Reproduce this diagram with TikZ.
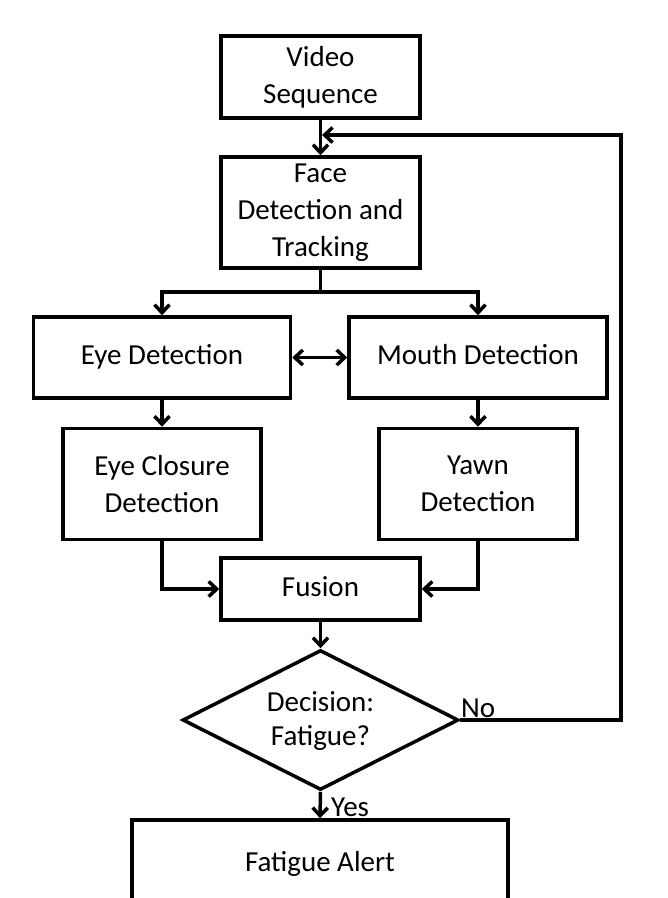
\documentclass[tikz,border=0pt]{standalone}
\usepackage{fontspec}
\setmainfont{Carlito}
\usetikzlibrary{shapes.geometric,arrows.meta}
\begin{document}
\begin{tikzpicture}[x=1pt,y=-1pt,
  box/.style={draw,line width=3.5pt,inner sep=2pt,align=center,font=\fontsize{29}{37}\selectfont},
  one/.style={text height=20pt,text depth=6pt},
  conn/.style={line width=3.5pt,-{Straight Barb[length=8pt,width=15pt]}},
  lbl/.style={font=\fontsize{29}{34}\selectfont,inner sep=1pt,align=center}]
\path[use as bounding box] (0,0) rectangle (668,898);
\clip (0,0) rectangle (668,898);
\node[box,minimum width=199pt,minimum height=82pt] (vid) at (320.5,77) {Video\\Sequence};
\node[box,minimum width=199pt,minimum height=111pt] (face) at (320.5,212.5) {Face\\Detection and\\Tracking};
\node[box,one,minimum width=257pt,minimum height=81pt] (eye) at (162,357.5) {Eye Detection};
\node[box,one,minimum width=258pt,minimum height=81pt] (mouth) at (478,357.5) {Mouth Detection};
\node[box,minimum width=198pt,minimum height=111pt] (clos) at (162,484) {Eye Closure\\Detection};
\node[box,minimum width=198pt,minimum height=111pt] (yawn) at (478,484) {Yawn\\Detection};
\node[box,one,minimum width=199pt,minimum height=62pt] (fus) at (320.5,589) {Fusion};
\node[draw,line width=3.5pt,shape=diamond,inner sep=0pt,minimum width=276pt,minimum height=140pt] (dec) at (320.5,720) {};
\node[lbl] (dectxt) at (320.5,721) {Decision:\\Fatigue?};
\node[box,minimum width=376pt,minimum height=96pt] (alert) at (320,868) {};
\node[lbl] (alerttxt) at (320,864) {Fatigue Alert};
\coordinate (split) at (320.5,292);
\coordinate (fbend) at (322,135);
\coordinate (fbcorner) at (621,720);
\draw[conn] (vid) -- (face);
\draw[conn] (dec.east) -- (fbcorner) |- (fbend);
\draw[line width=3.5pt] (face.south) -- (split);
\draw[conn] (split) -| (eye.north);
\draw[conn] (split) -| (mouth.north);
\draw[line width=3.5pt,{Straight Barb[length=8pt,width=15pt]}-{Straight Barb[length=8pt,width=15pt]}] (eye) -- (mouth);
\draw[conn] (eye) -- (clos);
\draw[conn] (mouth) -- (yawn);
\draw[conn] (clos.south) |- (fus.west);
\draw[conn] (yawn.south) |- (fus.east);
\draw[conn] (fus) -- (dec);
\draw[conn] (dec.south) -- (alert.north);
\node[lbl,anchor=south west] (no) at (460,719) {No};
\node[lbl,anchor=west] (yes) at (330,807) {Yes};
\end{tikzpicture}
\end{document}
